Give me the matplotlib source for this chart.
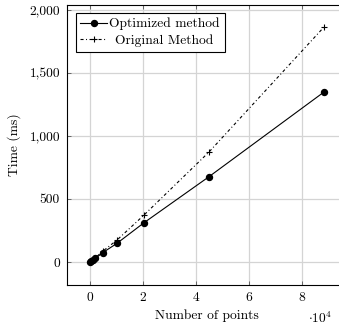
import matplotlib
matplotlib.use("Agg")
import matplotlib.pyplot as plt
from matplotlib.ticker import FuncFormatter

plt.rcParams['font.family'] = ['cmr10', 'DejaVu Serif']
plt.rcParams['mathtext.fontset'] = 'cm'
plt.rcParams['axes.unicode_minus'] = False
plt.rcParams['axes.formatter.use_mathtext'] = True
plt.rcParams['lines.scale_dashes'] = False

# number of points
n_points = [100, 500, 1000, 2000, 4800, 10200, 20400, 44900, 88300]
# time in ms
t_optimized = [1, 6, 13, 28, 74, 148, 311, 675, 1345]
t_original = [1, 7, 15, 33, 85, 174, 372, 870, 1859]

W, H = 339, 325
fig = plt.figure(figsize=(W / 100, H / 100), dpi=100)
# axes box: right edge runs past the image (cropped like the original)
ax = fig.add_axes([67 / W, 1 - 285 / H, 280 / W, 280.5 / H])

ax.plot(n_points, t_optimized, color='black', lw=0.8, marker='o', ms=4.3,
        label='Optimized method', zorder=3)
ax.plot(n_points, t_original, color='black', lw=0.8, ls=(0, (2.2, 1.8, 0.7, 1.8)),
        marker='+', ms=4, mew=0.8, label='Original Method', zorder=2)

ax.set_xlim(-8680, 97100)
ax.set_ylim(-182, 2040)
ax.set_xticks([0, 20000, 40000, 60000, 80000])
ax.set_yticks([0, 500, 1000, 1500, 2000])
ax.xaxis.set_major_formatter(FuncFormatter(lambda v, p: '%d' % round(v / 1e4)))
ax.yaxis.set_major_formatter(FuncFormatter(lambda v, p: '{:,}'.format(int(v))))

ax.grid(True, color='#d4d4d4', lw=0.9)
ax.set_axisbelow(True)
ax.tick_params(direction='in', length=3, width=0.6, top=True, right=True,
               labelsize=9.7, pad=5, color='#555555')
for s in ax.spines.values():
    s.set_linewidth(0.8)

ax.set_xlabel('Number of points', fontsize=9.7, labelpad=4)
ax.set_ylabel('Time (ms)', fontsize=9.7, labelpad=6)
fig.text(308 / W, 1 - 318 / H, r'$\cdot 10^4$', fontsize=9.7, va='center', ha='left')

leg = ax.legend(loc='upper left', bbox_to_anchor=(0.031, 0.970), borderaxespad=0,
                fancybox=False, edgecolor='black', framealpha=1, fontsize=9.7,
                handlelength=2.0, handletextpad=0.15, borderpad=0.35,
                labelspacing=0.3)
leg.get_frame().set_linewidth(0.8)
# center the shorter label like the original legend
leg.get_texts()[1].set_x(6)

fig.savefig('out.png', dpi=100)
